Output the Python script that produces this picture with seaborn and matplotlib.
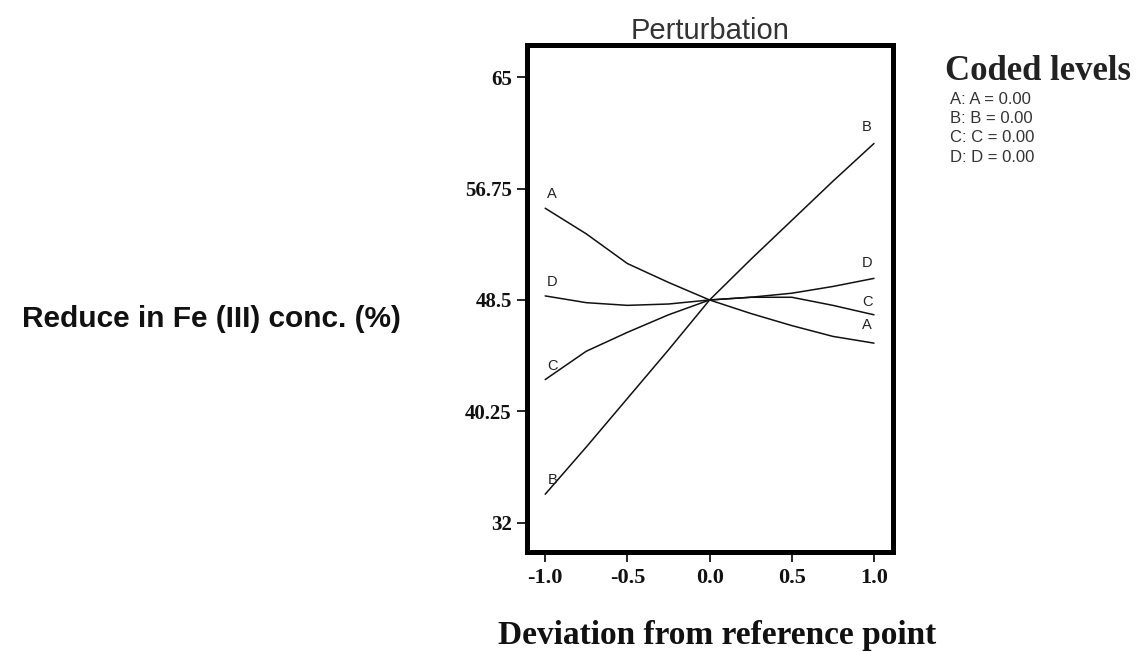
import matplotlib
matplotlib.use("Agg")
import matplotlib.pyplot as plt
import pandas as pd
import seaborn as sns

# deviation from reference point (coded units)
deviation = [-1.0, -0.75, -0.5, -0.25, 0.0, 0.25, 0.5, 0.75, 1.0]

# response (%)
factor_a = [55.3, 53.4, 51.2, 49.8, 48.5, 47.5, 46.6, 45.8, 45.3]
factor_b = [34.1, 37.6, 41.2, 44.8, 48.5, 51.5, 54.4, 57.3, 60.1]
factor_c = [42.6, 44.7, 46.1, 47.4, 48.5, 48.7, 48.7, 48.1, 47.4]
factor_d = [48.8, 48.3, 48.1, 48.2, 48.5, 48.7, 49.0, 49.5, 50.1]

factors = ["A", "B", "C", "D"]
y_ticks = [32, 40.25, 48.5, 56.75, 65]
y_tick_labels = ["32", "40.25", "48.5", "56.75", "65"]
x_ticks = [-1.0, -0.5, 0.0, 0.5, 1.0]
x_tick_labels = ["-1.0", "-0.5", "0.0", "0.5", "1.0"]
legend_lines = ["A: A = 0.00", "B: B = 0.00", "C: C = 0.00", "D: D = 0.00"]


def main():
    series = {"A": factor_a, "B": factor_b, "C": factor_c, "D": factor_d}
    rows = []
    for name in factors:
        for x, y in zip(deviation, series[name]):
            rows.append({"deviation": x, "response": y, "factor": name})
    df = pd.DataFrame(rows)

    sns.set_style("white")
    plt.rcParams["font.family"] = ["Liberation Sans", "DejaVu Sans"]

    fig = plt.figure(figsize=(11.36, 6.52), dpi=100)
    ax = fig.add_axes([0.464, 0.153, 0.322, 0.778])

    sns.lineplot(data=df, x="deviation", y="response", hue="factor",
                 palette=["#111111"] * 4, legend=False, linewidth=1.1, ax=ax)

    ax.set_xlim(-1.11, 1.115)
    ax.set_ylim(29.8, 67.4)

    for side in ax.spines.values():
        side.set_linewidth(3.6)
        side.set_color("black")

    ax.set_yticks(y_ticks)
    ax.set_yticklabels(y_tick_labels, family="Liberation Serif",
                       fontweight="bold", fontsize=15, color="#111111")
    ax.set_xticks(x_ticks)
    ax.set_xticklabels(x_tick_labels, family="Liberation Serif",
                       fontweight="bold", fontsize=16, color="#111111")
    ax.tick_params(axis="both", direction="out", length=7, width=1.2,
                   color="black", pad=4, left=True, bottom=True)

    ax.set_title("Perturbation", fontsize=21, color="#333333", pad=4)

    ax.set_ylabel("Reduce in Fe (III) conc. (%)", rotation=0, fontsize=21.5,
                  fontweight="bold", ha="center", va="center", color="#111111")
    ax.yaxis.set_label_coords(-0.863, 0.46)
    ax.set_xlabel("Deviation from reference point", family="Liberation Serif",
                  fontsize=24, fontweight="bold", va="center", color="#111111")
    ax.xaxis.set_label_coords(0.52, -0.165)

    # curve labels at both ends
    label_kw = dict(textcoords="offset points", fontsize=10.5, color="#222222",
                    ha="center", va="center")
    for name in factors:
        ys = series[name]
        ax.annotate(name, (deviation[0], ys[0]), xytext=(5, 10), **label_kw)
    right_offsets = {"A": 13, "B": 12, "C": 9, "D": 11}
    for name in factors:
        ys = series[name]
        ax.annotate(name, (deviation[-1], ys[-1]),
                    xytext=(-5, right_offsets[name]), **label_kw)

    fig.text(945 / 1136, 1 - 72 / 652, "Coded levels", family="Liberation Serif",
             fontsize=25, fontweight="bold", color="#222222", va="center")
    for i, line in enumerate(legend_lines):
        fig.text(950 / 1136, 1 - (99 + 19.5 * i) / 652, line, fontsize=12,
                 color="#333333", va="center")

    fig.savefig("out.png", dpi=100)


if __name__ == "__main__":
    main()
